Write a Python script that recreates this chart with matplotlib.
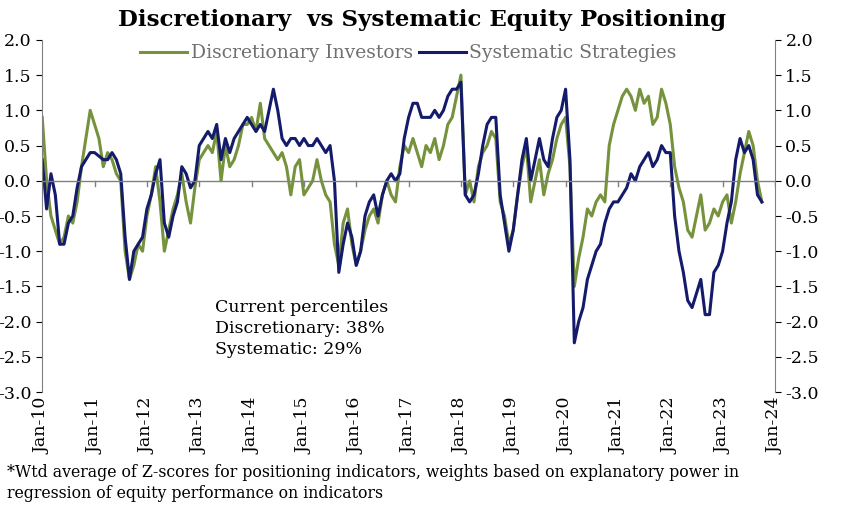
import matplotlib
matplotlib.use("Agg")
import matplotlib.pyplot as plt
import numpy as np

discretionary = [
 0.9,0.0,-0.5,-0.7,-0.9,-0.8,-0.5,-0.6,-0.3,0.2,0.6,1.0,
 0.8,0.6,0.2,0.4,0.3,0.1,0.0,-1.0,-1.4,-1.2,-0.9,-1.0,
 -0.5,-0.2,0.2,-0.3,-1.0,-0.7,-0.4,-0.2,0.1,-0.3,-0.6,-0.1,
 0.3,0.4,0.5,0.4,0.7,0.0,0.5,0.2,0.3,0.5,0.8,0.8,
 0.9,0.7,1.1,0.6,0.5,0.4,0.3,0.4,0.2,-0.2,0.2,0.3,
 -0.2,-0.1,0.0,0.3,0.0,-0.2,-0.3,-0.9,-1.2,-0.6,-0.4,-0.9,
 -1.2,-1.0,-0.7,-0.5,-0.4,-0.6,-0.2,0.0,-0.2,-0.3,0.2,0.5,
 0.4,0.6,0.4,0.2,0.5,0.4,0.6,0.3,0.5,0.8,0.9,1.2,
 1.5,-0.2,0.0,-0.3,0.2,0.4,0.5,0.7,0.6,-0.3,-0.5,-0.9,
 -0.7,-0.2,0.2,0.5,-0.3,0.0,0.3,-0.2,0.1,0.3,0.6,0.8,
 0.9,0.2,-1.5,-1.1,-0.8,-0.4,-0.5,-0.3,-0.2,-0.3,0.5,0.8,
 1.0,1.2,1.3,1.2,1.0,1.3,1.1,1.2,0.8,0.9,1.3,1.1,
 0.8,0.2,-0.1,-0.3,-0.7,-0.8,-0.5,-0.2,-0.7,-0.6,-0.4,-0.5,
 -0.3,-0.2,-0.6,-0.3,0.1,0.4,0.7,0.5,0.0,-0.3]
systematic = [
 0.3,-0.4,0.1,-0.2,-0.9,-0.9,-0.6,-0.5,-0.1,0.2,0.3,0.4,
 0.4,0.35,0.3,0.3,0.4,0.3,0.1,-0.8,-1.4,-1.0,-0.9,-0.8,
 -0.4,-0.2,0.1,0.3,-0.6,-0.8,-0.5,-0.3,0.2,0.1,-0.1,0.0,
 0.5,0.6,0.7,0.6,0.8,0.3,0.6,0.4,0.6,0.7,0.8,0.9,
 0.8,0.7,0.8,0.7,1.0,1.3,1.0,0.6,0.5,0.6,0.6,0.5,
 0.6,0.5,0.5,0.6,0.5,0.4,0.5,0.0,-1.3,-0.9,-0.6,-0.8,
 -1.2,-1.0,-0.5,-0.3,-0.2,-0.5,-0.2,0.0,0.1,0.0,0.1,0.6,
 0.9,1.1,1.1,0.9,0.9,0.9,1.0,0.9,1.0,1.2,1.3,1.3,
 1.4,-0.2,-0.3,-0.2,0.1,0.5,0.8,0.9,0.9,-0.2,-0.6,-1.0,
 -0.7,-0.2,0.3,0.6,0.0,0.3,0.6,0.3,0.2,0.6,0.9,1.0,
 1.3,0.3,-2.3,-2.0,-1.8,-1.4,-1.2,-1.0,-0.9,-0.6,-0.4,-0.3,
 -0.3,-0.2,-0.1,0.1,0.0,0.2,0.3,0.4,0.2,0.3,0.5,0.4,
 0.4,-0.5,-1.0,-1.3,-1.7,-1.8,-1.6,-1.4,-1.9,-1.9,-1.3,-1.2,
 -1.0,-0.6,-0.3,0.3,0.6,0.4,0.5,0.3,-0.2,-0.3]
xlabels = ["Jan-%02d" % y for y in range(10, 25)]
yticks = [2.0,1.5,1.0,0.5,0.0,-0.5,-1.0,-1.5,-2.0,-2.5,-3.0]

plt.rcParams["font.family"] = "DejaVu Serif"
fig = plt.figure(figsize=(8.62, 5.18), dpi=100)
ax = fig.add_axes([0.049, 0.243, 0.85, 0.68])
xd = 2010 + np.arange(len(discretionary)) / 12
xs = 2010 + np.arange(len(systematic)) / 12
ax.plot(xd, discretionary, color="#76923C", lw=2.2, label="Discretionary Investors")
ax.plot(xs, systematic, color="#141B6B", lw=2.2, label="Systematic Strategies")
ax.set_xlim(2010, 2024)
ax.set_ylim(-3.0, 2.0)
ax.set_yticks(yticks)
ax.set_yticklabels(["%.1f" % v for v in yticks], fontsize=12.5)
ax.tick_params(axis="y", direction="out", length=4, labelright=True, right=True)
ax.set_xticks(range(2010, 2025))
ax.set_xticklabels(xlabels, rotation=90, fontsize=12.5)
ax.tick_params(axis="x", length=0, pad=4)
ax.spines["top"].set_visible(False)
ax.spines["bottom"].set_visible(False)
ax.spines["left"].set_color("#808080")
ax.spines["right"].set_color("#808080")
ax.axhline(0, color="#808080", lw=1)
for yr in range(2010, 2025):
    ax.plot([yr, yr], [-0.08, 0], color="#808080", lw=1)
ax.legend(loc="upper center", bbox_to_anchor=(0.5, 1.035), ncol=2, frameon=False,
          fontsize=13.5, handlelength=2.5, columnspacing=0.3, handletextpad=0.2,
          labelcolor=["#707070", "#707070"])
ax.text(2013.3, -2.1, "Current percentiles\nDiscretionary: 38%\nSystematic: 29%",
        fontsize=12.5, va="center", linespacing=1.3)
fig.text(0.49, 0.962, "Discretionary  vs Systematic Equity Positioning", ha="center",
         va="center", fontsize=16.5, fontweight="bold")
fig.text(0.008, 0.067, "*Wtd average of Z-scores for positioning indicators, weights based on explanatory power in\nregression of equity performance on indicators",
         fontsize=11.3, va="center", linespacing=1.3)
fig.savefig("out.png", dpi=100)
